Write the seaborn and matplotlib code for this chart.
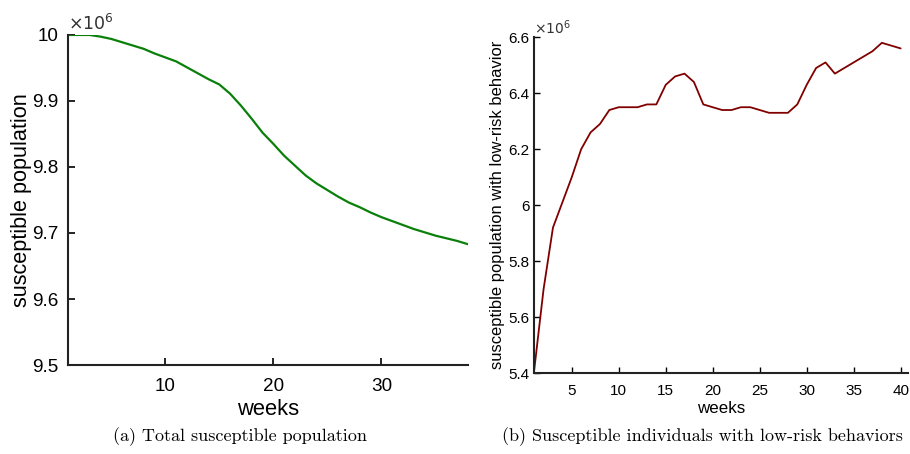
import pandas as pd
import seaborn as sns
import matplotlib.pyplot as plt

# Data (values in millions)
weeks_total = list(range(1, 39))
total_susceptible = [10.0, 10.0, 10.0, 9.9975, 9.994, 9.989, 9.984, 9.979, 9.972, 9.966,
                     9.96, 9.951, 9.942, 9.933, 9.925, 9.911, 9.893, 9.873, 9.852, 9.835,
                     9.817, 9.802, 9.787, 9.775, 9.765, 9.755, 9.746, 9.739, 9.731, 9.724,
                     9.718, 9.712, 9.706, 9.701, 9.696, 9.692, 9.688, 9.683]

weeks_low = list(range(1, 41))
low_risk = [5.41, 5.70, 5.92, 6.01, 6.10, 6.20, 6.26, 6.29, 6.34, 6.35,
            6.35, 6.35, 6.36, 6.36, 6.43, 6.46, 6.47, 6.44, 6.36, 6.35,
            6.34, 6.34, 6.35, 6.35, 6.34, 6.33, 6.33, 6.33, 6.36, 6.43,
            6.49, 6.51, 6.47, 6.49, 6.51, 6.53, 6.55, 6.58, 6.57, 6.56]

left_yticks = [9.5, 9.6, 9.7, 9.8, 9.9, 10.0]
left_ylabels = ["9.5", "9.6", "9.7", "9.8", "9.9", "10"]
right_yticks = [5.4, 5.6, 5.8, 6.0, 6.2, 6.4, 6.6]
right_ylabels = ["5.4", "5.6", "5.8", "6", "6.2", "6.4", "6.6"]

df_a = pd.DataFrame({"weeks": weeks_total, "S": total_susceptible})
df_b = pd.DataFrame({"weeks": weeks_low, "S": low_risk})

sns.set_style("ticks")
plt.rcParams["font.family"] = ["Liberation Sans", "DejaVu Sans"]
plt.rcParams["text.color"] = "black"
plt.rcParams["axes.labelcolor"] = "black"
plt.rcParams["xtick.color"] = "black"
plt.rcParams["ytick.color"] = "black"

fig = plt.figure(figsize=(9.1, 4.54), dpi=100)
ax1 = fig.add_axes([0.0747, 0.196, 0.4395, 0.727])
ax2 = fig.add_axes([0.587, 0.178, 0.411, 0.740])

# (a) total susceptible
sns.lineplot(data=df_a, x="weeks", y="S", ax=ax1, color="#0a800a", linewidth=1.6)
ax1.set_xlim(1, 38)
ax1.set_ylim(9.5, 10.0)
ax1.set_xticks([10, 20, 30])
ax1.set_yticks(left_yticks)
ax1.set_yticklabels(left_ylabels)
ax1.tick_params(direction="in", labelsize=13.6, length=5, width=1.2)
ax1.tick_params(axis="x", pad=9)
ax1.tick_params(axis="y", pad=7)
ax1.set_xlabel("weeks", fontsize=15.8, labelpad=3)
ax1.set_ylabel("susceptible population", fontsize=15.6, labelpad=0)
ax1.text(0.0, 1.005, r"$\times10^{6}$", transform=ax1.transAxes, fontsize=12.5,
         ha="left", va="bottom", color="#333333")

# (b) low-risk behavior
sns.lineplot(data=df_b, x="weeks", y="S", ax=ax2, color="#800000", linewidth=1.3)
ax2.set_xlim(1, 40.8)
ax2.set_ylim(5.4, 6.6)
ax2.set_xticks([5, 10, 15, 20, 25, 30, 35, 40])
ax2.set_yticks(right_yticks)
ax2.set_yticklabels(right_ylabels)
ax2.tick_params(direction="in", labelsize=11, length=4, width=1.0)
ax2.tick_params(axis="x", pad=8)
ax2.set_xlabel("weeks", fontsize=12.2, labelpad=2)
ax2.set_ylabel("susceptible population with low-risk behavior", fontsize=11.9, labelpad=2)
ax2.text(0.0, 1.0, r"$\times10^{6}$", transform=ax2.transAxes, fontsize=10,
         ha="left", va="bottom", color="#333333")

for ax in (ax1, ax2):
    sns.despine(ax=ax)
    for s in ("left", "bottom"):
        ax.spines[s].set_linewidth(1.5)
        ax.spines[s].set_color("#222222")

fig.text(0.264, 0.028, "(a) Total susceptible population", fontsize=13,
         family=["cmr10", "DejaVu Serif"], ha="center")
fig.text(0.772, 0.028, "(b) Susceptible individuals with low-risk behaviors", fontsize=13,
         family=["cmr10", "DejaVu Serif"], ha="center")

fig.savefig("out.png", dpi=100)
